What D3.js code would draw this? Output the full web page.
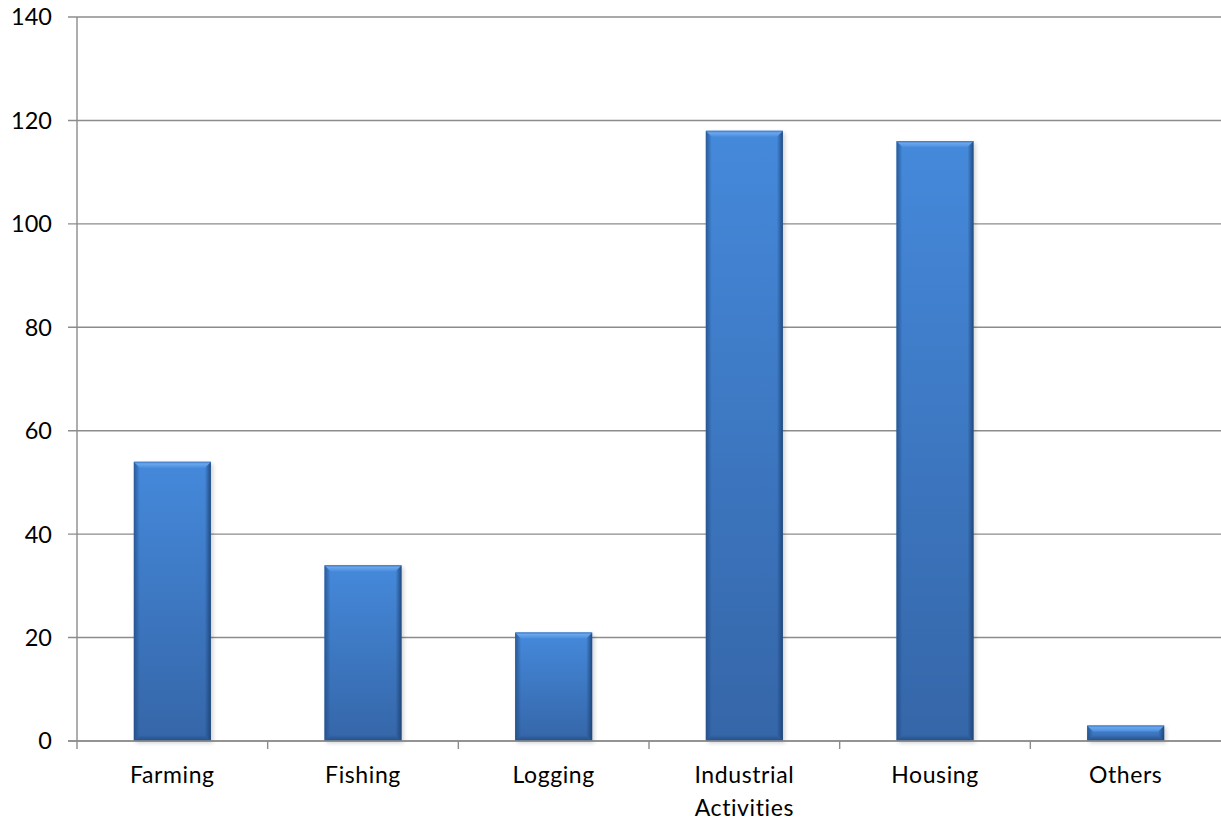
<!DOCTYPE html>
<html>
<head>
<meta charset="utf-8">
<script src="https://cdn.jsdelivr.net/npm/d3@7"></script>
<style>
  html, body { margin: 0; padding: 0; background: #fff; }
  svg { display: block; }
  text { font-family: Lato, "Open Sans", sans-serif; fill: #000; }
</style>
</head>
<body>
<svg id="chart" width="1221" height="820"></svg>
<script>
// Categories and values
const categories = ["Farming", "Fishing", "Logging", "Industrial Activities", "Housing", "Others"];
const values = [54, 34, 21, 118, 116, 3];
const yTicks = [0, 20, 40, 60, 80, 100, 120, 140];

const plotLeft = 77, plotRight = 1221, plotTop = 17, plotBottom = 741;

const svg = d3.select("#chart");

const x = d3.scaleBand().domain(categories).range([plotLeft, plotRight])
  .paddingInner(0.596).paddingOuter(0.298);
const y = d3.scaleLinear().domain([0, 140]).range([plotBottom, plotTop]);

const defs = svg.append("defs");
// body gradient: lighter at top, darker at bottom
const gBody = defs.append("linearGradient").attr("id", "gBody")
  .attr("x1", 0).attr("y1", 0).attr("x2", 0).attr("y2", 1);
gBody.append("stop").attr("offset", "0%").attr("stop-color", "#4589db");
gBody.append("stop").attr("offset", "100%").attr("stop-color", "#3566a8");
const gTop = defs.append("linearGradient").attr("id", "gTop")
  .attr("x1", 0).attr("y1", 0).attr("x2", 0).attr("y2", 1);
gTop.append("stop").attr("offset", "0%").attr("stop-color", "#3c77c4");
gTop.append("stop").attr("offset", "35%").attr("stop-color", "#6aa6ec");
gTop.append("stop").attr("offset", "100%").attr("stop-color", "#4b8fdf");
const gL = defs.append("linearGradient").attr("id", "gL")
  .attr("x1", 0).attr("y1", 0).attr("x2", 1).attr("y2", 0);
gL.append("stop").attr("offset", "0%").attr("stop-color", "#1f4a82").attr("stop-opacity", 0.75);
gL.append("stop").attr("offset", "100%").attr("stop-color", "#1f4a82").attr("stop-opacity", 0);
const gR = defs.append("linearGradient").attr("id", "gR")
  .attr("x1", 1).attr("y1", 0).attr("x2", 0).attr("y2", 0);
gR.append("stop").attr("offset", "0%").attr("stop-color", "#1a3f70").attr("stop-opacity", 0.85);
gR.append("stop").attr("offset", "100%").attr("stop-color", "#1a3f70").attr("stop-opacity", 0);
const gB = defs.append("linearGradient").attr("id", "gB")
  .attr("x1", 0).attr("y1", 1).attr("x2", 0).attr("y2", 0);
gB.append("stop").attr("offset", "0%").attr("stop-color", "#1a3f70").attr("stop-opacity", 0.6);
gB.append("stop").attr("offset", "100%").attr("stop-color", "#1a3f70").attr("stop-opacity", 0);
const shadow = defs.append("filter").attr("id", "shadow")
  .attr("x", "-20%").attr("y", "-20%").attr("width", "140%").attr("height", "140%");
shadow.append("feGaussianBlur").attr("stdDeviation", 2.2);

// Gridlines
svg.append("g").selectAll("line").data(yTicks).join("line")
  .attr("x1", plotLeft - 9).attr("x2", plotRight)
  .attr("y1", d => y(d)).attr("y2", d => y(d))
  .attr("stroke", "#8c8c8c").attr("stroke-width", 1.4);

// Y axis line
svg.append("line").attr("x1", plotLeft).attr("x2", plotLeft).attr("y1", plotTop).attr("y2", plotBottom + 8)
  .attr("stroke", "#8c8c8c").attr("stroke-width", 1.4);

// Category tick marks on the x axis (band boundaries)
const bounds = categories.map(c => x(c) - x.step() * x.paddingInner() / 2).slice(1);
svg.append("g").selectAll("line").data(bounds).join("line")
  .attr("x1", d => d).attr("x2", d => d).attr("y1", plotBottom).attr("y2", plotBottom + 8)
  .attr("stroke", "#8c8c8c").attr("stroke-width", 1.4);

// Y labels
svg.append("g").selectAll("text").data(yTicks).join("text")
  .attr("x", 52).attr("y", d => y(d)).attr("dy", "0.36em")
  .attr("text-anchor", "end").attr("font-size", 23.5).text(d => d);

// Bars with bevel
const data = categories.map((c, i) => ({ c, v: values[i] }));
const bars = svg.append("g").selectAll("g").data(data).join("g");
bars.append("rect")
  .attr("x", d => x(d.c) + 2).attr("y", d => y(d.v) + 2)
  .attr("width", x.bandwidth()).attr("height", d => plotBottom - y(d.v))
  .attr("fill", "#000").attr("opacity", 0.18).attr("filter", "url(#shadow)");
bars.append("rect")
  .attr("x", d => x(d.c)).attr("y", d => y(d.v))
  .attr("width", x.bandwidth()).attr("height", d => plotBottom - y(d.v))
  .attr("fill", "url(#gBody)");
const bev = 6;
bars.append("path").attr("fill", "url(#gL)").attr("d", d => {
  const x0 = x(d.c), y0 = y(d.v), h = plotBottom - y0, b = Math.min(bev, h / 2);
  return `M${x0},${y0}L${x0 + b},${y0 + b}L${x0 + b},${plotBottom - b}L${x0},${plotBottom}Z`;
});
bars.append("path").attr("fill", "url(#gR)").attr("d", d => {
  const x1 = x(d.c) + x.bandwidth(), y0 = y(d.v), h = plotBottom - y0, b = Math.min(bev, h / 2);
  return `M${x1},${y0}L${x1 - b},${y0 + b}L${x1 - b},${plotBottom - b}L${x1},${plotBottom}Z`;
});
bars.append("path").attr("fill", "url(#gB)").attr("d", d => {
  const x0 = x(d.c), x1 = x0 + x.bandwidth(), y0 = y(d.v), h = plotBottom - y0, b = Math.min(bev, h / 2);
  return `M${x0},${plotBottom}L${x0 + b},${plotBottom - b}L${x1 - b},${plotBottom - b}L${x1},${plotBottom}Z`;
});
bars.append("path").attr("fill", "url(#gTop)").attr("d", d => {
  const x0 = x(d.c), x1 = x0 + x.bandwidth(), y0 = y(d.v), h = plotBottom - y0, b = Math.min(bev, h / 2);
  return `M${x0},${y0}L${x1},${y0}L${x1 - b},${y0 + b}L${x0 + b},${y0 + b}Z`;
});

// X axis line on top of bars
svg.append("line").attr("x1", plotLeft - 9).attr("x2", plotRight).attr("y1", plotBottom).attr("y2", plotBottom)
  .attr("stroke", "#8c8c8c").attr("stroke-width", 1.4);

// Category labels (wrapped)
const wrap = { "Industrial Activities": ["Industrial", "Activities"] };
svg.append("g").selectAll("text").data(categories).join("text")
  .attr("x", d => x(d) + x.bandwidth() / 2).attr("y", 783)
  .attr("text-anchor", "middle").attr("font-size", 23).attr("letter-spacing", 0.6)
  .each(function (d) {
    const lines = wrap[d] || [d];
    d3.select(this).selectAll("tspan").data(lines).join("tspan")
      .attr("x", x(d) + x.bandwidth() / 2).attr("dy", (l, i) => i ? 33 : 0).text(l => l);
  });
</script>
</body>
</html>
